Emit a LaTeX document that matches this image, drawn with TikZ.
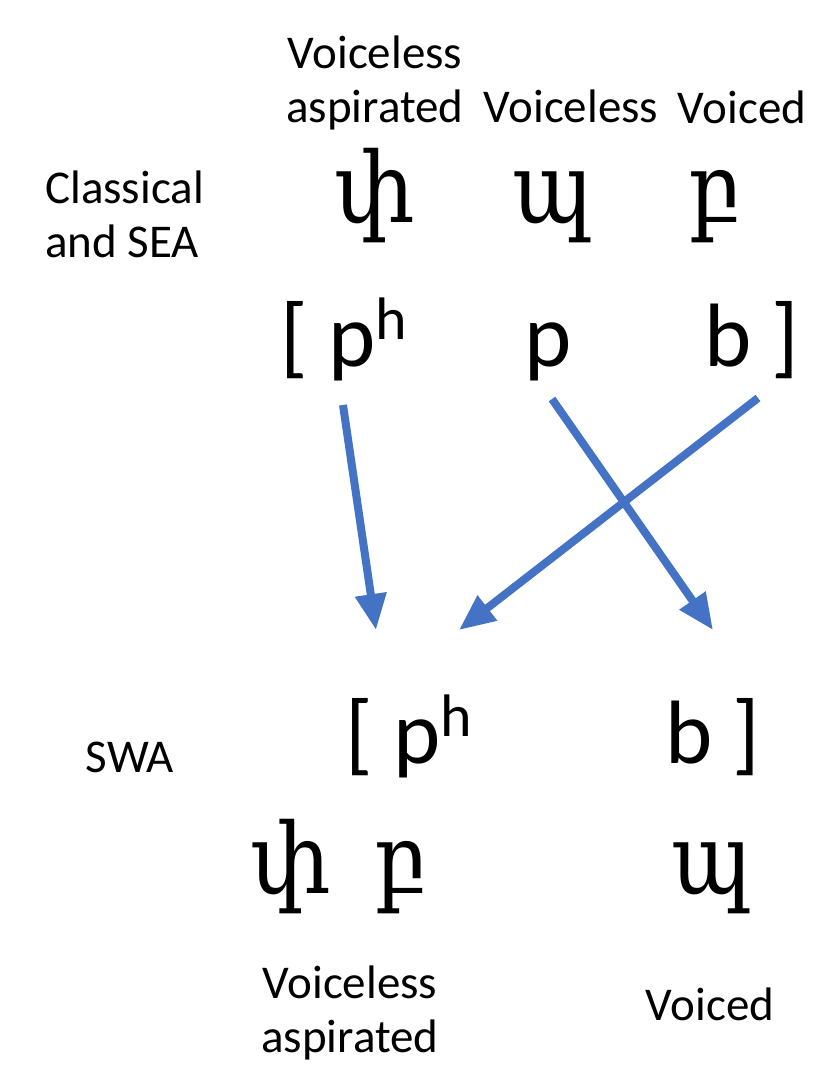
\documentclass[tikz,border=0pt]{standalone}
\usepackage{fontspec}
\setmainfont{Carlito}
\newfontfamily\armfont{DejaVu Serif}
\usepackage{tikz}
\usetikzlibrary{positioning,arrows.meta}
\definecolor{shiftblue}{HTML}{4472C4}
\newcommand{\asp}{p\raisebox{0.29em}{\fontsize{60}{60}\selectfont h}}
\newcommand{\armch}[1]{\scalebox{1.02}[1.15]{#1}}
\tikzset{
  lbl/.style={font=\fontsize{47}{54}\selectfont, inner sep=0pt},
  ipa/.style={font=\fontsize{90}{100}\selectfont, inner sep=0pt, anchor=base},
  arm/.style={font=\armfont\fontsize{85}{90}\selectfont, inner sep=0pt, anchor=base},
  shiftarrow/.style={draw=shiftblue, line width=8pt, -{Triangle[length=36pt,width=30pt]}}
}

\begin{document}
\begin{tikzpicture}[x=1pt,y=-1pt]
    \useasboundingbox (0,0) rectangle (815,1070);

    % Classical and SEA
    \node[lbl, align=center, anchor=base] (hasp) at (375,122) {Voiceless\\aspirated};
    \node[lbl, anchor=base] (hvl) at (571,122) {Voiceless};
    \node[lbl, anchor=base] (hvd) at (742,124) {Voiced};
    \node[lbl, align=left, anchor=base west] (cl) at (45,257) {Classical\\and SEA};

    \node[arm] (a1) at (375,222) {\armch{փ}};
    \node[arm] (a2) at (553,222) {\armch{պ}};
    \node[arm] (a3) at (715,222) {\armch{բ}};

    \node[ipa, anchor=base west] (i1) at (280,366) {[ \asp};
    \node[ipa] (i2) at (548,366) {p};
    \node[ipa] (i3) at (752,366) {b ]};

    % SWA
    \node[lbl, anchor=base] (swa) at (130,772) {SWA};
    \node[ipa, anchor=base west] (j1) at (345,763) {[ \asp};
    \node[ipa] (j2) at (713,763) {b ]};

    \node[arm] (b1) at (291,893) {\armch{փ}};
    \node[arm] (b2) at (401,893) {\armch{բ}};
    \node[arm] (b3) at (712,893) {\armch{պ}};

    \node[lbl, align=center, anchor=base] (basp) at (350,1052) {Voiceless\\aspirated};
    \node[lbl, anchor=base] (bvd) at (710,1020) {Voiced};

    % shifts
    \coordinate (s1) at (343,405);
    \coordinate (s2) at (552,399);
    \coordinate (s3) at (758,398);
    \coordinate (t1) at (376,630);
    \coordinate (t2) at (713,630);
    \coordinate (t3) at (459,630);
    \draw[shiftarrow] (s1) -- (t1);
    \draw[shiftarrow] (s2) -- (t2);
    \draw[shiftarrow] (s3) -- (t3);
\end{tikzpicture}
\end{document}
